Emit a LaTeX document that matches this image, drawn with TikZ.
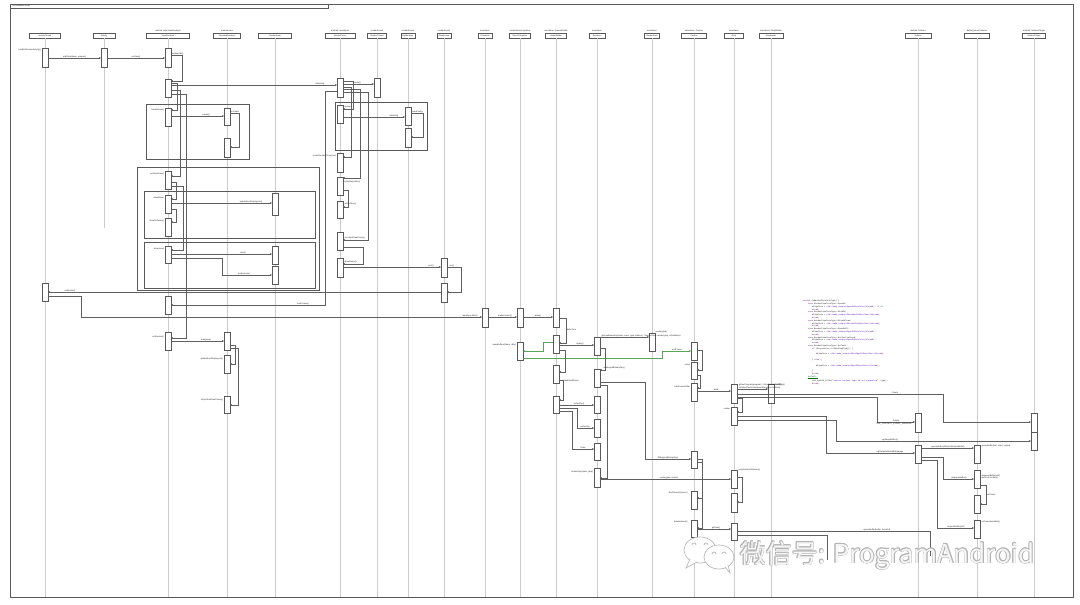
\documentclass[tikz,border=0pt]{standalone}
\usepackage{fontspec}
\setmainfont{Liberation Sans}
\setmonofont{Liberation Mono}
\newfontfamily\cjk{Noto Sans CJK SC}
\usetikzlibrary{arrows.meta,positioning}
\newcommand\actbox[4]{\node[act,minimum height={#4-#3}] (#1) at (#2,{(#3+#4)/2}) {};}
\newcommand\hdr[4]{\node[hdrbox,minimum width=#3] (#1) at (#2,35.5) {#4};}
\newcommand\hdrt[5]{\node[hdrbox,minimum width=#3] (#1) at (#2,35.5) {#4};\node[lbl,above=0.6pt of #1] (#1t) {#5};}
\newcommand\ckw[1]{\textcolor{violet!80!black}{#1}}
\newcommand\cfn[1]{\textcolor{violet!70!blue}{#1}}
\newcommand\ccm[1]{\textcolor{green!45!black}{#1}}
\begin{document}
\begin{tikzpicture}[x=1pt,y=-1pt,
  lifeline/.style={draw=gray!40,line width=0.3pt},
  hdrbox/.style={draw=gray!70!black,fill=white,line width=0.3pt,minimum height=5pt,inner sep=0.4pt,font=\fontsize{2}{2.4}\selectfont,text=gray!30!black},
  act/.style={draw=gray!70!black,fill=white,line width=0.3pt,minimum width=5.5pt,inner sep=0pt},
  msg/.style={draw=gray!75!black,line width=0.25pt,-{Stealth[length=2.2pt,width=1.8pt]}},
  gmsg/.style={msg,draw=green!30!gray},
  ln/.style={draw=gray!75!black,line width=0.25pt},
  lbl/.style={font=\fontsize{2.1}{2.5}\selectfont,text=gray!30!black,inner sep=0.4pt},
  frm/.style={draw=gray!70!black,line width=0.35pt},
  code/.style={font=\ttfamily\fontsize{2}{2.8}\selectfont,text=gray!20!black,align=left,inner sep=0pt},
  wm/.style={anchor=base west,inner sep=0pt,font=\cjk\fontsize{26}{26}\selectfont},
  logo/.style={draw=gray!55,line width=0.7pt,fill=white}
]
\useasboundingbox (0,0) rectangle (1080,605);
\fill[white] (0,0) rectangle (1080,605);

% outer frame
\draw[frm] (10,4) rectangle (1073,597);
\draw[frm] (10,8) -- (328,8) -- (328,4);
\node[lbl,anchor=west] (title) at (12,6) {sd Hardware Draw};

% headers
\hdr{h1}{45}{31}{ActivityThread}
\hdr{h2}{104}{22}{Activity}
\hdrt{h3}{168}{43}{ViewRootImpl}{android.view.ViewRootImpl}
\hdrt{h4}{227}{27}{ThreadedRenderer}{android.view}
\hdr{h5}{275}{33}{RenderNode}
\hdrt{h6}{340}{30}{RenderProxy}{android::uirenderer}
\hdrt{h7}{377}{19}{RenderThread}{renderthread}
\hdrt{h8}{408}{14}{EglManager}{renderthread}
\hdrt{h9}{444}{14}{DrawFrame}{renderthread}
\hdrt{h10}{485}{14}{FrameInfo}{uirenderer}
\hdrt{h11}{520}{21}{OpenGLPipeline}{renderthread::pipeline}
\hdrt{h12}{556}{21}{FrameBuilder}{uirenderer::FrameBuilder}
\hdrt{h13}{597}{16}{Renderer}{uirenderer}
\hdrt{h14}{652}{15}{RenderState}{uirenderer}
\hdrt{h15}{694}{25}{Caches}{uirenderer::Caches}
\hdrt{h16}{734}{19}{Glop}{uirenderer}
\hdrt{h17}{771}{24}{GlopBuilder}{uirenderer::GlopBuilder}
\hdrt{h18}{918}{26}{Surface}{android::Surface}
\hdrt{h19}{977}{25}{}{BufferQueueProducer}
\hdrt{h20}{1034}{23}{SurfaceFlinger}{android::SurfaceFlinger}

% lifelines
\foreach \h in {h1,h3,h4,h5,h6,h7,h8,h9,h10,h11,h12,h13,h14,h15,h16,h17,h18,h19,h20}
  \draw[lifeline] (\h.south) -- (\h.south |- 0,597);
\draw[lifeline] (h2.south) -- (h2.south |- 0,228);

% fragments
\draw[frm] (146,104) rectangle (249,159);
\draw[frm] (137,167) rectangle (319,290);
\draw[frm] (144,191) rectangle (315,238);
\draw[frm] (144,242) rectangle (315,288);
\draw[frm] (335,102) rectangle (427,150);

% code annotation
\node[code,anchor=north west] (codeblk) at (803,300) {%
\ckw{switch} (mRenderPipelineType) \{\\
\hspace*{5pt}\ckw{case} RenderPipelineType::OpenGL:\\
\hspace*{9pt}mPipeline = \cfn{std::make\_unique<OpenGLPipeline>(thread);} \ccm{// GL}\\
\hspace*{9pt}\ckw{break};\\
\hspace*{5pt}\ckw{case} RenderPipelineType::SkiaGL:\\
\hspace*{9pt}mPipeline = \cfn{std::make\_unique<SkiaOpenGLPipeline>(thread);}\\
\hspace*{9pt}\ckw{break};\\
\hspace*{5pt}\ckw{case} RenderPipelineType::SkiaVulkan:\\
\hspace*{9pt}mPipeline = \cfn{std::make\_unique<SkiaVulkanPipeline>(thread);}\\
\hspace*{9pt}\ckw{break};\\
\hspace*{5pt}\ckw{case} RenderPipelineType::OpenGLES:\\
\hspace*{9pt}mPipeline = \cfn{std::make\_unique<OpenGLPipeline>(thread);}\\
\hspace*{9pt}\ckw{break};\\
\hspace*{5pt}\ckw{case} RenderPipelineType::NotInitialized:\\
\hspace*{9pt}mPipeline = \cfn{std::make\_unique<OpenGLPipeline>(thread);}\\
\hspace*{9pt}\ckw{break};\\
\hspace*{5pt}\ckw{case} RenderPipelineType::Default:\\
\hspace*{9pt}\ckw{if} (Properties::isSkiaEnabled()) \{\\
~\\
\hspace*{13pt}mPipeline = \cfn{std::make\_unique<SkiaOpenGLPipeline>(thread);}\\
~\\
\hspace*{9pt}\} \ckw{else} \{\\
~\\
\hspace*{13pt}mPipeline = \cfn{std::make\_unique<OpenGLPipeline>(thread);}\\
~\\
\hspace*{9pt}\}\\
\hspace*{9pt}\ckw{break};\\
\hspace*{5pt}\ccm{\underline{default:}}\\
\hspace*{9pt}LOG\_ALWAYS\_FATAL(\cfn{"canvas context type \%d not supported"}, type);\\
\hspace*{9pt}\ckw{break};};

% activations
\actbox{a1}{45}{48}{67}
\actbox{a2}{45}{283}{301}
\actbox{b1}{104}{48}{67}
\actbox{c1}{168}{48}{67}
\actbox{c2}{168}{79}{97}
\actbox{c3}{168}{108}{126}
\actbox{c4}{168}{171}{189}
\actbox{c5}{168}{195}{213}
\actbox{c6}{168}{218}{236}
\actbox{c7}{168}{246}{263}
\actbox{c8}{168}{296}{314}
\actbox{c9}{168}{332}{350}
\actbox{d1}{227}{108}{125}
\actbox{d2}{227}{138}{157}
\actbox{d3}{227}{332}{350}
\actbox{d4}{227}{355}{373}
\actbox{d5}{227}{396}{413}
\actbox{e1}{275}{193}{215}
\actbox{e2}{275}{246}{264}
\actbox{e3}{275}{266}{284}
\actbox{f1}{340}{78}{97}
\actbox{f2}{340}{105}{123}
\actbox{f3}{340}{153}{172}
\actbox{f4}{340}{177}{195}
\actbox{f5}{340}{201}{218}
\actbox{f6}{340}{232}{250}
\actbox{f7}{340}{258}{277}
\actbox{g1}{377}{78}{97}
\actbox{i1}{408}{107}{125}
\actbox{i2}{408}{128}{147}
\actbox{j1}{444}{258}{277}
\actbox{j2}{444}{283}{302}
\actbox{k1}{485}{308}{327}
\actbox{l1}{520}{308}{327}
\actbox{l2}{520}{342}{360}
\actbox{m1}{556}{308}{327}
\actbox{m2}{556}{335}{353}
\actbox{m3}{556}{365}{383}
\actbox{m4}{556}{396}{413}
\actbox{n1}{597}{337}{355}
\actbox{n2}{597}{369}{387}
\actbox{n3}{597}{396}{413}
\actbox{n4}{597}{419}{437}
\actbox{n5}{597}{443}{460}
\actbox{n6}{597}{468}{487}
\actbox{o1}{652}{333}{351}
\actbox{p1}{694}{342}{360}
\actbox{p2}{694}{362}{379}
\actbox{p3}{694}{383}{401}
\actbox{p4}{694}{451}{468}
\actbox{p5}{694}{491}{509}
\actbox{p6}{694}{520}{537}
\actbox{q1}{734}{384}{403}
\actbox{q2}{734}{407}{425}
\actbox{q3}{734}{470}{488}
\actbox{q4}{734}{493}{512}
\actbox{q5}{734}{523}{540}
\actbox{r1}{771}{384}{403}
\actbox{s1}{918}{413}{432}
\actbox{s2}{918}{445}{463}
\actbox{t1}{977}{445}{463}
\actbox{t2}{977}{470}{488}
\actbox{t3}{977}{495}{513}
\actbox{t4}{977}{520}{538}
\actbox{u1}{1034}{413}{432}
\actbox{u2}{1034}{432}{450}

\node[lbl,anchor=south east] (la1) at (41.5,52) {handleResumeActivity()};

% messages: left part
\draw[msg] (a1.east|-0,58) -- node[lbl,above]{addView(decor, params)} (b1.west|-0,58);
\draw[msg] (b1.east|-0,58) -- node[lbl,above]{setView()} (c1.west|-0,58);
\draw[msg] (c1.east|-0,55) -| (182,81) -- (c2.east|-0,81) node[lbl,anchor=south west] at (171.5,55) {enableHW()};
\draw[msg] (c2.east|-0,85) -- (f1.west|-0,85) node[lbl,anchor=south] at (320,85) {initialize()};
\draw[msg] (f1.west|-0,91) -| (325,305) -- (c8.east|-0,305) node[lbl,anchor=south] at (303,305) {trackFrame()};
\draw[msg] (c2.east|-0,83) -| (177,110) -- (c3.east|-0,110) node[lbl,anchor=south east] at (164.5,111) {handleDraw()};
\draw[msg] (c3.east|-0,116) -- (d1.west|-0,116) node[lbl,anchor=south] at (206,116) {create()};
\draw[msg] (d1.east|-0,113) -| (239,147) -- (d2.east|-0,147) node[lbl,anchor=south west] at (230,113) {onCreate};
\draw[msg] (c2.east|-0,90) -| (180,176) -- (c4.east|-0,176) node[lbl,anchor=south east] at (164.5,175) {performDraw()};
\draw[msg] (c4.east|-0,182) -| (176,199) -- (c5.east|-0,199) node[lbl,anchor=south east] at (164.5,199) {draw(false)};
\draw[msg] (c5.east|-0,203) -- (e1.west|-0,203) node[lbl,anchor=south] at (251,203) {updateRootDisplayList()};
\draw[msg] (c5.east|-0,209) -| (176,222) -- (c6.east|-0,222) node[lbl,anchor=south east] at (164.5,222) {drawSoftware()};
\draw[msg] (c4.east|-0,186) -| (183,250) -- (c7.east|-0,250) node[lbl,anchor=south east] at (164.5,250) {draw(view)};
\draw[msg] (c7.east|-0,254) -- (e2.west|-0,254) node[lbl,anchor=south] at (243,254) {start()};
\draw[msg] (c7.east|-0,258) -| (222,275) -- (e3.west|-0,275) node[lbl,anchor=south] at (244,275) {end(canvas)};
\draw[msg] (c2.east|-0,94) -| (186,338) -- (c9.east|-0,338) node[lbl,anchor=south east] at (164.5,338) {onResume()};
\draw[msg] (c9.east|-0,341) -- (d3.west|-0,341) node[lbl,anchor=south] at (206,341) {draw(view)};
\draw[msg] (d3.east|-0,345) -| (235,364) -- (d4.east|-0,364) node[lbl,anchor=south east] at (223.5,360) {updateRootDisplayList()};
\draw[msg] (d3.east|-0,348) -| (238,405) -- (d5.east|-0,405) node[lbl,anchor=south east] at (223.5,401) {nSyncAndDrawFrame()};

% messages: render proxy region
\draw[msg] (f1.east|-0,84) -- (g1.west|-0,84) node[lbl,anchor=south] at (357,84) {create()};
\draw[msg] (f1.east|-0,81) -| (353,109) -- (f2.east|-0,109) node[lbl,anchor=south west] at (344,108.5) {queue()};
\draw[msg] (f2.east|-0,117) -- (i1.west|-0,117) node[lbl,anchor=south] at (394,117) {initialize()};
\draw[msg] (i1.east|-0,113) -| (423,137) -- (i2.east|-0,137) node[lbl,anchor=south west] at (412,113) {loadConfig};
\draw[msg] (f1.east|-0,87) -| (351,157) -- (f3.east|-0,157) node[lbl,anchor=south east] at (336.5,157) {createRenderProxy(root)};
\draw[msg] (f1.east|-0,89) -| (360,178) -- (f4.east|-0,178) node[lbl,anchor=north west] at (344,180) {initialize(surface)};
\draw[msg] (f4.east|-0,190) -| (348,207) -- (f5.east|-0,207) node[lbl,anchor=south west] at (344,205) {setSurface()};
\draw[msg] (f1.east|-0,92) -| (368,240) -- (f6.east|-0,240) node[lbl,anchor=south west] at (344,239) {syncAndDrawFrame()};
\draw[msg] (f6.east|-0,247) -| (363,264) -- (f7.east|-0,264) node[lbl,anchor=south west] at (344,263) {drawFrame()};
\draw[msg] (f7.east|-0,267) -- (j1.west|-0,267) node[lbl,anchor=south] at (431,267) {post()};
\draw[msg] (j1.east|-0,267) -| (461,292) -- (j2.east|-0,292) node[lbl,anchor=south west] at (449,267) {run()};
\draw[msg] (j2.west|-0,292) -- (a2.east|-0,292) node[lbl,anchor=south] at (70,292) {unblockUi()};
\draw[msg] (a2.east|-0,296) -| (81,317) -- (k1.west|-0,317) node[lbl,anchor=south] at (470,317) {markSyncStart()};

% messages: pipeline region
\draw[msg] (k1.east|-0,317) -- (l1.west|-0,317) node[lbl,anchor=south] at (505,317) {makeCurrent()};
\draw[msg] (l1.east|-0,317) -- (m1.west|-0,317) node[lbl,anchor=south] at (538,317) {draw()};
\draw[msg] (m1.east|-0,318) -| (566,343) -- (m2.east|-0,343) node[lbl,anchor=south west] at (566.5,331) {deferTree};
\draw[gmsg] (m2.west|-0,342) -| (543,351) -- (l2.east|-0,351) node[lbl,anchor=south east] at (516.5,346) {swapBuffers(frame, dirty)};
\draw[gmsg] (l2.east|-0,358) -| (662,351) -- (p1.west|-0,351) node[lbl,anchor=south] at (677,351) {endFrame};
\draw[msg] (m2.east|-0,345) -- (n1.west|-0,345) node[lbl,anchor=south] at (580,345) {replay()};
\draw[msg] (n1.east|-0,337) -- (o1.west|-0,337) node[lbl,anchor=south west] at (601,337) {glDrawElements(mode, count, type, indices) : RenderState::render(glop, orthoMatrix)};
\node[lbl,anchor=south west] (lo1) at (655,334) {render(glop)};
\draw[msg] (m2.east|-0,350) -| (565,372) -- (m3.east|-0,372) node[lbl,anchor=west] at (561,381) {replayBakedOps()};
\draw[msg] (m3.east|-0,380) -| (563,400) -- (m4.east|-0,400);
\draw[msg] (n1.east|-0,348) -| (605,370) -- (n2.east|-0,370) node[lbl,anchor=south west] at (603,369) {onMergedBitmapOps()};
\draw[msg] (n2.east|-0,382) -| (645,459) -- (p4.west|-0,459) node[lbl,anchor=south] at (668,459) {fillRegion(BitmapOps)};
\draw[msg] (p1.east|-0,350) -| (702,370) -- (p2.east|-0,370) node[lbl,anchor=south east] at (690.5,366) {setup};
\draw[msg] (p2.east|-0,375) -| (700,388) -- (p3.east|-0,388) node[lbl,anchor=south east] at (690.5,388) {bindFramebuffer};
\draw[msg] (p3.east|-0,391) -- (q1.west|-0,391) node[lbl,anchor=south] at (716,391) {build};
\draw[msg] (q1.east|-0,398) -| (742,412) -- (q2.east|-0,412) node[lbl,anchor=south east] at (730.5,410) {render};
\draw[msg] (q1.east|-0,389) -- (r1.west|-0,389) node[lbl,anchor=south west,align=left] at (738.5,389) {glUseProgram(program) : GlopBuilder::build()\\ setMeshTexturedIndexedQuads(vertexData)};
\node[lbl,anchor=south west] (lr1) at (774,387) {buildGlop()};
\draw[msg] (q1.east|-0,394) -| (943,422) -- (u1.west|-0,422) node[lbl,anchor=south] at (895,394) {Create};
\draw[msg] (q1.east|-0,397) -| (877,422) -- (s1.west|-0,422) node[lbl,anchor=south] at (896,422) {Create} node[lbl,anchor=north] at (894,423) {EGL\_CONTEXT\_CLIENT\_VERSION};
\draw[msg] (q2.east|-0,416) -| (826,453) -- (s2.west|-0,453) node[lbl,anchor=south] at (890,453) {eglSwapBuffersWithDamage};
\draw[msg] (q2.east|-0,420) -| (836,441) -- (u2.west|-0,441) node[lbl,anchor=south] at (890,441) {eglSwapBuffers()};
\draw[msg] (m4.east|-0,405) -- (n3.west|-0,405) node[lbl,anchor=south] at (579,405) {onTextOp()};
\draw[msg] (m4.east|-0,408) -| (577,428) -- (n4.west|-0,428) node[lbl,anchor=south] at (585,428) {onRectOp};
\draw[msg] (m4.east|-0,411) -| (572,449) -- (n5.west|-0,449) node[lbl,anchor=south] at (583,449) {Draw};
\draw[msg] (n2.east|-0,385) -| (607,478) -- (n6.east|-0,478) node[lbl,anchor=south east] at (593.5,473) {renderGlop(state, glop)};
\draw[msg] (n6.east|-0,479) -- (q3.west|-0,479) node[lbl,anchor=south] at (669,479) {render(glop, matrix)};
\node[lbl,anchor=south west] (lq3) at (738,472) {setupVertexAttributes()};
\draw[msg] (q3.east|-0,477) -| (742,502) -- (q4.east|-0,502);
\draw[msg] (p4.east|-0,459) -| (702,498) -- (p5.east|-0,498) node[lbl,anchor=south east] at (688,494) {bindTexture(texture)};
\draw[msg] (p4.east|-0,462) -| (702,528) -- (p6.east|-0,528) node[lbl,anchor=south east] at (688,523) {drawIndexed()};
\draw[msg] (p6.east|-0,529) -- (q5.west|-0,529) node[lbl,anchor=south] at (716,529) {glDraw()};
\coordinate (wend1) at (930,556);
\coordinate (wend2) at (827,560);
\draw[ln] (q5.east|-0,531) -| (wend1) node[lbl,anchor=south] at (877,531) {queueBuffer(buffer, fenceFd)};
\draw[ln] (q5.east|-0,535) -| (wend2);
\draw[msg] (s2.east|-0,448) -- (t1.west|-0,448) node[lbl,anchor=south] at (948,448) {queueBuffer(ANativeWindowBuffer)};
\node[lbl,anchor=south west] (lt1) at (981,448) {queueBuffer(slot, input, output)};
\draw[msg] (s2.east|-0,457) -| (943,479) -- (t2.west|-0,479) node[lbl,anchor=south] at (959,479) {dequeueBuffer()};
\node[lbl,anchor=south west,align=left] (lt2) at (981,480) {dequeueBuffer(slot)\\ waitForFreeSlot()};
\draw[msg] (t2.east|-0,485) -| (986,504) -- (t3.east|-0,504) node[lbl,anchor=south west] at (986.5,496) {onFrame};
\draw[msg] (s2.east|-0,460) -| (937,528) -- (t4.west|-0,528) node[lbl,anchor=south] at (956,528) {requestBuffer(slot)};
\node[lbl,anchor=south west] (lt4) at (981,524) {onFrameAvailable()};

% watermark logo
\draw[logo] (700,550) ellipse (16 and 13);
\draw[logo] (690,559) -- (686,568) -- (697,562);
\draw[logo] (719,557) ellipse (15 and 12);
\draw[logo] (725,567) -- (730,573) -- (728,565);
\draw[draw=gray!55,line width=0.7pt] (692,545) arc[start angle=180,end angle=360,radius=2];
\draw[draw=gray!55,line width=0.7pt] (704,545) arc[start angle=180,end angle=360,radius=2];
\draw[draw=gray!55,line width=0.7pt] (712,554) arc[start angle=180,end angle=360,radius=2];
\draw[draw=gray!55,line width=0.7pt] (722,554) arc[start angle=180,end angle=360,radius=2];

% watermark text
\foreach \dx/\dy [count=\k] in {-0.6/0,0.6/0,0/-0.6,0/0.6,-0.45/-0.45,0.45/0.45,-0.45/0.45,0.45/-0.45}
  \node[wm,text=gray!60] (wm\k) at ({740+\dx},{563+\dy}) {微信号: ProgramAndroid};
\node[wm,text=white!93!gray] (wm0) at (740,563) {微信号: ProgramAndroid};
\end{tikzpicture}
\end{document}
